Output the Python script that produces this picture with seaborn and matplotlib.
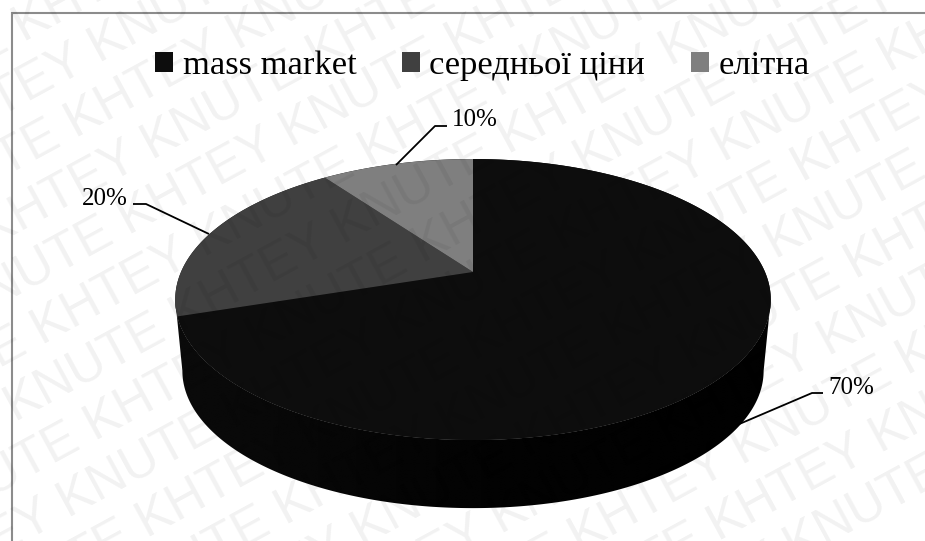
import numpy as np
import matplotlib
matplotlib.use("Agg")
import matplotlib.pyplot as plt
from matplotlib.patches import Patch, Polygon
import seaborn as sns

# Market segments and their shares, per cent
segments = ["mass market", "середньої ціни", "елітна"]
shares = [70, 20, 10]
segment_colors = ["#0d0d0d", "#404040", "#7f7f7f"]
watermark_words = " ".join(["KNUTE KHTEY"] * 9)

sns.set_theme(style="white")
plt.rcParams["font.family"] = ["Liberation Serif", "DejaVu Serif"]
palette = sns.color_palette(segment_colors)

WIDTH, HEIGHT = 925, 541
fig = plt.figure(figsize=(WIDTH / 100, HEIGHT / 100), dpi=100, facecolor="white")
ax = fig.add_axes([0, 0, 1, 1])

# Perspective view of a disc: phi is measured clockwise from twelve o'clock
TILT = 0.1957


def project(phi, cx, cy, rx, ry):
    u, v = np.sin(phi), np.cos(phi)
    w = 1 + TILT * v
    return cx + rx * u / w, cy - ry * v / w


top_rim = dict(cx=473, cy=272, rx=292, ry=135.1)
bottom_rim = dict(cx=473, cy=344, rx=285, ry=132)

# Disc wall: one outline filled with a soft left-to-right shade
tangent = np.arccos(-TILT)
wall_phi = np.linspace(tangent, 2 * np.pi - tangent, 300)
xt, yt = project(wall_phi, **top_rim)
xb, yb = project(wall_phi[::-1], **bottom_rim)
outline = Polygon(np.c_[np.r_[xt, xb], np.r_[yt, yb]], closed=True, transform=ax.transData,
                  facecolor="none", edgecolor="none")
ax.add_patch(outline)
shade = np.interp(np.linspace(0, 1, 256), [0, 0.5, 1], [0.042, 0.012, 0.004])[None, :]
ramp = ax.imshow(shade, cmap="gray", vmin=0, vmax=1, aspect="auto",
                 extent=(170, 775, 520, 290), zorder=2, interpolation="bilinear")
ramp.set_clip_path(outline)

ax.set_xlim(0, WIDTH)
ax.set_ylim(HEIGHT, 0)
ax.axis("off")

# Dark backing under the whole face so no pale seam shows along the rim
rim_x, rim_y = project(np.linspace(0, 2 * np.pi, 400), **top_rim)
ax.fill(rim_x, rim_y, color="#080808", lw=0, zorder=2.5)

# Top face, one sector per segment
edges = 2 * np.pi * np.cumsum([0] + shares) / sum(shares)
for start, stop, color in zip(edges[:-1], edges[1:], palette):
    phi = np.linspace(start, stop, 240)
    xr, yr = project(phi, **top_rim)
    ax.fill(np.r_[top_rim["cx"], xr], np.r_[top_rim["cy"], yr], color=color, lw=0, zorder=3)

# Leader lines and percentage labels
leaders = [
    ([737, 812, 823], [425, 393, 393], (828, 394)),
    ([209, 146, 133], [234, 204, 204], (128, 205)),
    ([396, 435, 447], [165, 126, 126], (452, 126)),
]
aligns = ["left", "right", "left"]
for share, (lx, ly, pos), align in zip(shares, leaders, aligns):
    ax.plot(lx, ly, color="black", lw=1.3, zorder=4, solid_capstyle="butt")
    ax.text(pos[0], pos[1], f"{share}%", fontsize=18, color="black",
            ha=align, va="baseline", zorder=6)

# Chart border: only the top and left sides fall inside the page
ax.plot([11.5, 11.5, WIDTH], [HEIGHT, 13, 13], color="#8c8c8c", lw=1.5, zorder=1,
        solid_joinstyle="miter")

handles = [Patch(facecolor=c, edgecolor="none", label=s) for c, s in zip(palette, segments)]
ax.legend(handles=handles, ncol=3, loc="center", bbox_to_anchor=(482.5, 66),
          bbox_transform=ax.transData, frameon=False, fontsize=24.8,
          handlelength=0.52, handleheight=0.52, handletextpad=0.27,
          columnspacing=1.33, borderpad=0, labelcolor="black")

# Diagonal publisher's mark repeated across the page
tilt_deg = 28.5
angle = np.deg2rad(tilt_deg)
along = np.array([np.cos(angle), -np.sin(angle)])
across = np.array([np.sin(angle), np.cos(angle)])
origin = np.array([44, 531])
for row in range(-14, 8):
    phase = 0 if row % 2 == 0 else 245
    anchor = origin + row * 55 * across + (phase - 1092) * along
    ax.text(anchor[0], anchor[1], watermark_words, family="Liberation Sans",
            fontsize=37, color="black", alpha=0.055, rotation=tilt_deg,
            rotation_mode="anchor", ha="left", va="baseline", zorder=5, clip_on=True)

fig.savefig("out.png", dpi=100, facecolor="white")
